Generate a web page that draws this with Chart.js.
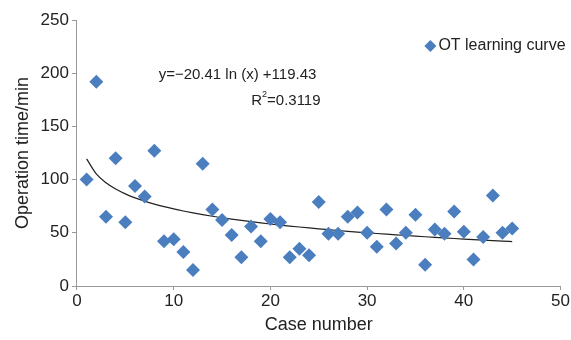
<!DOCTYPE html>
<html>
<head>
<meta charset="utf-8">
<script src="https://cdn.jsdelivr.net/npm/chart.js@4"></script>
<style>
  html, body { margin: 0; padding: 0; background: #fff; }
  #wrap { width: 571px; height: 340px; }
</style>
</head>
<body>
<div id="wrap"><canvas id="otChart"></canvas></div>
<script>
// case numbers and operation times (min)
var caseNo = [1, 2, 3, 4, 5, 6, 7, 8, 9, 10, 11, 12, 13, 14, 15, 16, 17, 18, 19, 20, 21, 22, 23,
  24, 25, 26, 27, 28, 29, 30, 31, 32, 33, 34, 35, 36, 37, 38, 39, 40, 41, 42, 43, 44, 45];
var opTime = [100, 192, 65, 120, 60, 94, 84, 127, 42, 44, 32, 15, 115, 72, 62, 48, 27, 56, 42, 63, 60, 27, 35,
  29, 79, 49, 49, 65, 69, 50, 37, 72, 40, 50, 67, 20, 53, 49, 70, 51, 25, 46, 85, 50, 54];

// logarithmic trendline as printed on the chart
var trendA = -20.41;
var trendB = 119.43;
var eqText = 'y=\u221220.41 ln (x) +119.43';
var r2Text = '=0.3119';
var seriesName = 'OT learning curve';

var trendPts = caseNo.map(function (x) {
  return { x: x, y: trendA * Math.log(x) + trendB };
});

var labelFont = 'Liberation Sans, Arial, Helvetica, sans-serif';
var blue = '#4a7ebf';

// equation, R² and the legend drawn inside the plot area
var textPlugin = {
  id: 'textBits',
  afterDatasetsDraw: function (chart) {
    var ctx = chart.ctx;
    var xs = chart.scales.x, ys = chart.scales.y;
    ctx.save();
    ctx.fillStyle = '#222';
    ctx.font = '15px ' + labelFont;
    ctx.textAlign = 'center';
    ctx.textBaseline = 'middle';
    ctx.fillText(eqText, xs.getPixelForValue(16.6), ys.getPixelForValue(198));

    var cx = xs.getPixelForValue(21.6), cy = ys.getPixelForValue(174);
    var w1 = ctx.measureText('R').width;
    var w2 = ctx.measureText(r2Text).width;
    var left = cx - (w1 + 5 + w2) / 2;
    ctx.textAlign = 'left';
    ctx.fillText('R', left, cy);
    ctx.font = '9px ' + labelFont;
    ctx.fillText('2', left + w1, cy - 6);
    ctx.font = '15px ' + labelFont;
    ctx.fillText(r2Text, left + w1 + 5, cy);

    // legend, top right
    var ca = chart.chartArea;
    ctx.font = '16px ' + labelFont;
    var tw = ctx.measureText(seriesName).width;
    var tx = ca.right + 5 - tw, ty = ca.top + 26;
    ctx.fillText(seriesName, tx, ty);
    ctx.fillStyle = blue;
    ctx.beginPath();
    ctx.moveTo(tx - 8, ty - 6);
    ctx.lineTo(tx - 2, ty);
    ctx.lineTo(tx - 8, ty + 6);
    ctx.lineTo(tx - 14, ty);
    ctx.closePath();
    ctx.fill();
    ctx.restore();
  }
};

var ctx = document.getElementById('otChart').getContext('2d');
var otChart = new Chart(ctx, {
  type: 'scatter',
  data: {
    datasets: [{
      label: seriesName,
      data: caseNo.map(function (x, i) { return { x: x, y: opTime[i] }; }),
      pointStyle: 'rectRot',
      pointRadius: 7,
      pointHoverRadius: 7,
      backgroundColor: blue,
      borderColor: blue,
      borderWidth: 0
    }, {
      label: 'trend',
      data: trendPts,
      showLine: true,
      pointRadius: 0,
      borderColor: '#222',
      borderWidth: 1.2,
      cubicInterpolationMode: 'monotone'
    }]
  },
  options: {
    responsive: true,
    maintainAspectRatio: false,
    animation: false,
    layout: { padding: { top: 20, right: 8, left: 8, bottom: 2 } },
    plugins: {
      legend: { display: false },
      tooltip: { enabled: false }
    },
    scales: {
      x: {
        min: 0,
        max: 50,
        ticks: { stepSize: 10, color: '#222', font: { family: labelFont, size: 17 }, padding: 1 },
        grid: { drawOnChartArea: false, drawTicks: true, tickLength: 4, tickColor: '#999' },
        border: { color: '#999' },
        title: { display: true, text: 'Case number', color: '#222', font: { family: labelFont, size: 18 }, padding: { top: 2, bottom: 2 } }
      },
      y: {
        min: 0,
        max: 250,
        ticks: { stepSize: 50, color: '#222', font: { family: labelFont, size: 17 }, padding: 3 },
        grid: { drawOnChartArea: false, drawTicks: true, tickLength: 5, tickColor: '#999' },
        border: { color: '#999' },
        title: { display: true, text: 'Operation time/min', color: '#222', font: { family: labelFont, size: 18 }, padding: { bottom: 4 } }
      }
    }
  },
  plugins: [textPlugin]
});
</script>
</body>
</html>
